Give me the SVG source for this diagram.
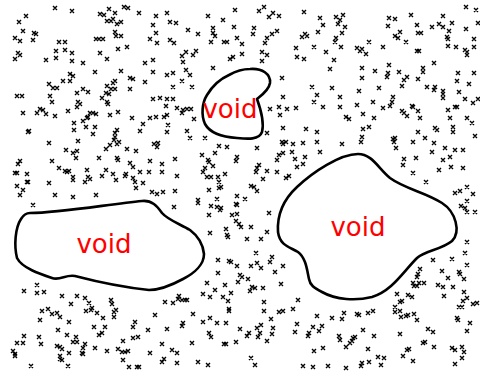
<svg xmlns="http://www.w3.org/2000/svg" width="480" height="376" viewBox="0 0 480 376">
<style>
.m{fill:none;stroke:#000;stroke-width:1.4}
.blob{fill:#fff;stroke:#000;stroke-width:2.6;stroke-linejoin:round}
.lbl{font-family:"DejaVu Sans",Verdana,sans-serif;font-size:26px;fill:#f00;text-anchor:middle}
</style>
<rect width="480" height="376" fill="#fff"/>
<g id="marks">
<path class="m" d="M55 8m-2-2l4 4m0-4l-4 4M72 11m-2-2l4 4m0-4l-4 4M100 14m-2-2l4 4m0-4l-4 4M104 15m-2-2l4 4m0-4l-4 4M109 9m-2-2l4 4m0-4l-4 4M115 13m-2-2l4 4m0-4l-4 4M124 7m-2-2l4 4m0-4l-4 4M128 8m-2-2l4 4m0-4l-4 4M139 13m-2-2l4 4m0-4l-4 4M156 16m-2-2l4 4m0-4l-4 4M26 16m-2-2l4 4m0-4l-4 4M19 22m-2-2l4 4m0-4l-4 4M23 31m-2-2l4 4m0-4l-4 4M15 38m-2-2l4 4m0-4l-4 4M20 41m-2-2l4 4m0-4l-4 4M34 33m-2-2l4 4m0-4l-4 4M36 34m-2-2l4 4m0-4l-4 4M33 40m-2-2l4 4m0-4l-4 4M107 21m-2-2l4 4m0-4l-4 4M111 21m-2-2l4 4m0-4l-4 4M113 19m-2-2l4 4m0-4l-4 4M117 24m-2-2l4 4m0-4l-4 4M121 22m-2-2l4 4m0-4l-4 4M115 32m-2-2l4 4m0-4l-4 4M116 36m-2-2l4 4m0-4l-4 4M121 36m-2-2l4 4m0-4l-4 4M96 39m-2-2l4 4m0-4l-4 4M99 39m-2-2l4 4m0-4l-4 4M103 39m-2-2l4 4m0-4l-4 4M59 42m-2-2l4 4m0-4l-4 4M65 42m-2-2l4 4m0-4l-4 4M153 25m-2-2l4 4m0-4l-4 4M156 33m-2-2l4 4m0-4l-4 4M150 39m-2-2l4 4m0-4l-4 4M157 43m-2-2l4 4m0-4l-4 4M18 53m-2-2l4 4m0-4l-4 4M20 55m-2-2l4 4m0-4l-4 4M15 59m-2-2l4 4m0-4l-4 4M56 51m-2-2l4 4m0-4l-4 4M65 50m-2-2l4 4m0-4l-4 4M72 53m-2-2l4 4m0-4l-4 4M56 58m-2-2l4 4m0-4l-4 4M46 60m-2-2l4 4m0-4l-4 4M72 61m-2-2l4 4m0-4l-4 4M83 63m-2-2l4 4m0-4l-4 4M100 53m-2-2l4 4m0-4l-4 4M107 59m-2-2l4 4m0-4l-4 4M118 49m-2-2l4 4m0-4l-4 4M127 47m-2-2l4 4m0-4l-4 4M145 63m-2-2l4 4m0-4l-4 4M153 60m-2-2l4 4m0-4l-4 4M70 74m-2-2l4 4m0-4l-4 4M73 76m-2-2l4 4m0-4l-4 4M63 81m-2-2l4 4m0-4l-4 4M70 81m-2-2l4 4m0-4l-4 4M49 84m-2-2l4 4m0-4l-4 4M53 88m-2-2l4 4m0-4l-4 4M57 88m-2-2l4 4m0-4l-4 4M95 72m-2-2l4 4m0-4l-4 4M121 71m-2-2l4 4m0-4l-4 4M153 72m-2-2l4 4m0-4l-4 4M130 78m-2-2l4 4m0-4l-4 4M133 79m-2-2l4 4m0-4l-4 4M115 81m-2-2l4 4m0-4l-4 4M113 83m-2-2l4 4m0-4l-4 4M107 86m-2-2l4 4m0-4l-4 4M111 89m-2-2l4 4m0-4l-4 4M115 89m-2-2l4 4m0-4l-4 4M106 93m-2-2l4 4m0-4l-4 4M109 94m-2-2l4 4m0-4l-4 4M145 82m-2-2l4 4m0-4l-4 4M130 89m-2-2l4 4m0-4l-4 4M77 93m-2-2l4 4m0-4l-4 4M83 89m-2-2l4 4m0-4l-4 4M88 92m-2-2l4 4m0-4l-4 4M17 96m-2-2l4 4m0-4l-4 4M22 96m-2-2l4 4m0-4l-4 4M50 96m-2-2l4 4m0-4l-4 4M102 98m-2-2l4 4m0-4l-4 4M153 99m-2-2l4 4m0-4l-4 4"/>
<path class="m" d="M167 13m-2-2l4 4m0-4l-4 4M170 22m-2-2l4 4m0-4l-4 4M176 23m-2-2l4 4m0-4l-4 4M208 16m-2-2l4 4m0-4l-4 4M223 20m-2-2l4 4m0-4l-4 4M235 10m-2-2l4 4m0-4l-4 4M259 11m-2-2l4 4m0-4l-4 4M264 7m-2-2l4 4m0-4l-4 4M269 17m-2-2l4 4m0-4l-4 4M273 13m-2-2l4 4m0-4l-4 4M279 16m-2-2l4 4m0-4l-4 4M304 12m-2-2l4 4m0-4l-4 4M188 30m-2-2l4 4m0-4l-4 4M198 34m-2-2l4 4m0-4l-4 4M213 28m-2-2l4 4m0-4l-4 4M213 33m-2-2l4 4m0-4l-4 4M215 36m-2-2l4 4m0-4l-4 4M234 27m-2-2l4 4m0-4l-4 4M254 28m-2-2l4 4m0-4l-4 4M253 34m-2-2l4 4m0-4l-4 4M267 38m-2-2l4 4m0-4l-4 4M272 34m-2-2l4 4m0-4l-4 4M277 31m-2-2l4 4m0-4l-4 4M265 43m-2-2l4 4m0-4l-4 4M170 40m-2-2l4 4m0-4l-4 4M174 43m-2-2l4 4m0-4l-4 4M211 42m-2-2l4 4m0-4l-4 4M224 42m-2-2l4 4m0-4l-4 4M227 42m-2-2l4 4m0-4l-4 4M237 38m-2-2l4 4m0-4l-4 4M242 44m-2-2l4 4m0-4l-4 4M296 48m-2-2l4 4m0-4l-4 4M302 37m-2-2l4 4m0-4l-4 4M305 34m-2-2l4 4m0-4l-4 4M307 36m-2-2l4 4m0-4l-4 4M314 47m-2-2l4 4m0-4l-4 4M186 52m-2-2l4 4m0-4l-4 4M182 56m-2-2l4 4m0-4l-4 4M183 62m-2-2l4 4m0-4l-4 4M193 55m-2-2l4 4m0-4l-4 4M196 51m-2-2l4 4m0-4l-4 4M230 59m-2-2l4 4m0-4l-4 4M233 57m-2-2l4 4m0-4l-4 4M242 54m-2-2l4 4m0-4l-4 4M262 52m-2-2l4 4m0-4l-4 4M267 55m-2-2l4 4m0-4l-4 4M262 61m-2-2l4 4m0-4l-4 4M297 57m-2-2l4 4m0-4l-4 4M304 59m-2-2l4 4m0-4l-4 4M213 68m-2-2l4 4m0-4l-4 4M167 75m-2-2l4 4m0-4l-4 4M173 73m-2-2l4 4m0-4l-4 4M186 70m-2-2l4 4m0-4l-4 4M190 75m-2-2l4 4m0-4l-4 4M182 81m-2-2l4 4m0-4l-4 4M173 87m-2-2l4 4m0-4l-4 4M192 87m-2-2l4 4m0-4l-4 4M282 78m-2-2l4 4m0-4l-4 4M312 87m-2-2l4 4m0-4l-4 4M160 98m-2-2l4 4m0-4l-4 4M167 99m-2-2l4 4m0-4l-4 4M173 99m-2-2l4 4m0-4l-4 4M166 106m-2-2l4 4m0-4l-4 4M177 108m-2-2l4 4m0-4l-4 4M183 110m-2-2l4 4m0-4l-4 4M187 109m-2-2l4 4m0-4l-4 4M191 109m-2-2l4 4m0-4l-4 4M182 113m-2-2l4 4m0-4l-4 4M167 115m-2-2l4 4m0-4l-4 4M164 117m-2-2l4 4m0-4l-4 4M194 119m-2-2l4 4m0-4l-4 4M168 125m-2-2l4 4m0-4l-4 4M283 97m-2-2l4 4m0-4l-4 4M270 109m-2-2l4 4m0-4l-4 4M279 107m-2-2l4 4m0-4l-4 4M280 115m-2-2l4 4m0-4l-4 4M287 109m-2-2l4 4m0-4l-4 4M296 108m-2-2l4 4m0-4l-4 4M314 102m-2-2l4 4m0-4l-4 4M317 95m-2-2l4 4m0-4l-4 4M320 18m-2-2l4 4m0-4l-4 4M318 32m-2-2l4 4m0-4l-4 4"/>
<path class="m" d="M323 25m-2-2l4 4m0-4l-4 4M336 17m-2-2l4 4m0-4l-4 4M343 15m-2-2l4 4m0-4l-4 4M340 20m-2-2l4 4m0-4l-4 4M338 24m-2-2l4 4m0-4l-4 4M345 27m-2-2l4 4m0-4l-4 4M342 33m-2-2l4 4m0-4l-4 4M336 38m-2-2l4 4m0-4l-4 4M335 42m-2-2l4 4m0-4l-4 4M341 47m-2-2l4 4m0-4l-4 4M326 52m-2-2l4 4m0-4l-4 4M334 60m-2-2l4 4m0-4l-4 4M330 69m-2-2l4 4m0-4l-4 4M389 18m-2-2l4 4m0-4l-4 4M395 19m-2-2l4 4m0-4l-4 4M411 15m-2-2l4 4m0-4l-4 4M388 26m-2-2l4 4m0-4l-4 4M400 32m-2-2l4 4m0-4l-4 4M395 36m-2-2l4 4m0-4l-4 4M398 38m-2-2l4 4m0-4l-4 4M406 42m-2-2l4 4m0-4l-4 4M417 25m-2-2l4 4m0-4l-4 4M418 33m-2-2l4 4m0-4l-4 4M421 33m-2-2l4 4m0-4l-4 4M369 42m-2-2l4 4m0-4l-4 4M383 47m-2-2l4 4m0-4l-4 4M357 48m-2-2l4 4m0-4l-4 4M362 49m-2-2l4 4m0-4l-4 4M360 51m-2-2l4 4m0-4l-4 4M366 54m-2-2l4 4m0-4l-4 4M417 51m-2-2l4 4m0-4l-4 4M419 51m-2-2l4 4m0-4l-4 4M443 16m-2-2l4 4m0-4l-4 4M439 24m-2-2l4 4m0-4l-4 4M443 27m-2-2l4 4m0-4l-4 4M432 27m-2-2l4 4m0-4l-4 4M452 23m-2-2l4 4m0-4l-4 4M449 31m-2-2l4 4m0-4l-4 4M447 37m-2-2l4 4m0-4l-4 4M448 39m-2-2l4 4m0-4l-4 4M448 46m-2-2l4 4m0-4l-4 4M456 47m-2-2l4 4m0-4l-4 4M466 29m-2-2l4 4m0-4l-4 4M466 7m-2-2l4 4m0-4l-4 4M476 10m-2-2l4 4m0-4l-4 4M478 23m-2-2l4 4m0-4l-4 4M474 39m-2-2l4 4m0-4l-4 4M474 47m-2-2l4 4m0-4l-4 4M465 50m-2-2l4 4m0-4l-4 4M467 52m-2-2l4 4m0-4l-4 4M467 55m-2-2l4 4m0-4l-4 4M434 63m-2-2l4 4m0-4l-4 4M362 68m-2-2l4 4m0-4l-4 4M362 78m-2-2l4 4m0-4l-4 4M375 71m-2-2l4 4m0-4l-4 4M389 65m-2-2l4 4m0-4l-4 4M388 73m-2-2l4 4m0-4l-4 4M387 77m-2-2l4 4m0-4l-4 4M399 72m-2-2l4 4m0-4l-4 4M407 77m-2-2l4 4m0-4l-4 4M404 80m-2-2l4 4m0-4l-4 4M402 86m-2-2l4 4m0-4l-4 4M418 79m-2-2l4 4m0-4l-4 4M423 68m-2-2l4 4m0-4l-4 4M423 72m-2-2l4 4m0-4l-4 4M458 73m-2-2l4 4m0-4l-4 4M474 73m-2-2l4 4m0-4l-4 4M457 81m-2-2l4 4m0-4l-4 4M469 84m-2-2l4 4m0-4l-4 4M332 88m-2-2l4 4m0-4l-4 4M359 91m-2-2l4 4m0-4l-4 4M379 88m-2-2l4 4m0-4l-4 4M427 87m-2-2l4 4m0-4l-4 4M435 87m-2-2l4 4m0-4l-4 4M434 90m-2-2l4 4m0-4l-4 4M443 91m-2-2l4 4m0-4l-4 4M443 94m-2-2l4 4m0-4l-4 4M443 98m-2-2l4 4m0-4l-4 4M459 92m-2-2l4 4m0-4l-4 4M393 97m-2-2l4 4m0-4l-4 4M392 102m-2-2l4 4m0-4l-4 4M390 106m-2-2l4 4m0-4l-4 4M373 102m-2-2l4 4m0-4l-4 4M383 108m-2-2l4 4m0-4l-4 4M323 107m-2-2l4 4m0-4l-4 4M340 97m-2-2l4 4m0-4l-4 4M340 107m-2-2l4 4m0-4l-4 4M357 105m-2-2l4 4m0-4l-4 4M363 114m-2-2l4 4m0-4l-4 4M346 117m-2-2l4 4m0-4l-4 4M349 119m-2-2l4 4m0-4l-4 4M374 118m-2-2l4 4m0-4l-4 4M402 111m-2-2l4 4m0-4l-4 4M404 113m-2-2l4 4m0-4l-4 4M407 116m-2-2l4 4m0-4l-4 4M412 106m-2-2l4 4m0-4l-4 4M413 107m-2-2l4 4m0-4l-4 4M418 111m-2-2l4 4m0-4l-4 4M420 118m-2-2l4 4m0-4l-4 4M448 110m-2-2l4 4m0-4l-4 4M455 107m-2-2l4 4m0-4l-4 4M457 107m-2-2l4 4m0-4l-4 4M465 99m-2-2l4 4m0-4l-4 4M473 103m-2-2l4 4m0-4l-4 4M478 99m-2-2l4 4m0-4l-4 4M450 118m-2-2l4 4m0-4l-4 4M467 118m-2-2l4 4m0-4l-4 4M472 123m-2-2l4 4m0-4l-4 4"/>
<path class="m" d="M23 113m-2-2l4 4m0-4l-4 4M37 113m-2-2l4 4m0-4l-4 4M40 109m-2-2l4 4m0-4l-4 4M43 110m-2-2l4 4m0-4l-4 4M46 114m-2-2l4 4m0-4l-4 4M52 102m-2-2l4 4m0-4l-4 4M55 116m-2-2l4 4m0-4l-4 4M68 111m-2-2l4 4m0-4l-4 4M77 107m-2-2l4 4m0-4l-4 4M80 104m-2-2l4 4m0-4l-4 4M78 102m-2-2l4 4m0-4l-4 4M107 102m-2-2l4 4m0-4l-4 4M108 104m-2-2l4 4m0-4l-4 4M118 112m-2-2l4 4m0-4l-4 4M110 115m-2-2l4 4m0-4l-4 4M90 113m-2-2l4 4m0-4l-4 4M93 113m-2-2l4 4m0-4l-4 4M96 114m-2-2l4 4m0-4l-4 4M83 121m-2-2l4 4m0-4l-4 4M87 118m-2-2l4 4m0-4l-4 4M88 117m-2-2l4 4m0-4l-4 4M74 123m-2-2l4 4m0-4l-4 4M86 127m-2-2l4 4m0-4l-4 4M95 127m-2-2l4 4m0-4l-4 4M93 134m-2-2l4 4m0-4l-4 4M74 130m-2-2l4 4m0-4l-4 4M28 132m-2-2l4 4m0-4l-4 4M29 131m-2-2l4 4m0-4l-4 4M49 143m-2-2l4 4m0-4l-4 4M78 141m-2-2l4 4m0-4l-4 4M66 150m-2-2l4 4m0-4l-4 4M73 153m-2-2l4 4m0-4l-4 4M77 151m-2-2l4 4m0-4l-4 4M76 158m-2-2l4 4m0-4l-4 4M99 158m-2-2l4 4m0-4l-4 4M106 149m-2-2l4 4m0-4l-4 4M110 145m-2-2l4 4m0-4l-4 4M114 140m-2-2l4 4m0-4l-4 4M115 137m-2-2l4 4m0-4l-4 4M117 144m-2-2l4 4m0-4l-4 4M119 142m-2-2l4 4m0-4l-4 4M115 133m-2-2l4 4m0-4l-4 4M117 130m-2-2l4 4m0-4l-4 4M127 149m-2-2l4 4m0-4l-4 4M136 151m-2-2l4 4m0-4l-4 4M132 118m-2-2l4 4m0-4l-4 4M140 131m-2-2l4 4m0-4l-4 4M143 124m-2-2l4 4m0-4l-4 4M150 118m-2-2l4 4m0-4l-4 4M156 117m-2-2l4 4m0-4l-4 4M154 144m-2-2l4 4m0-4l-4 4M157 147m-2-2l4 4m0-4l-4 4M158 143m-2-2l4 4m0-4l-4 4M52 161m-2-2l4 4m0-4l-4 4M59 168m-2-2l4 4m0-4l-4 4M65 171m-2-2l4 4m0-4l-4 4M67 172m-2-2l4 4m0-4l-4 4M69 171m-2-2l4 4m0-4l-4 4M87 170m-2-2l4 4m0-4l-4 4M73 177m-2-2l4 4m0-4l-4 4M73 180m-2-2l4 4m0-4l-4 4M88 177m-2-2l4 4m0-4l-4 4M90 179m-2-2l4 4m0-4l-4 4M85 182m-2-2l4 4m0-4l-4 4M102 176m-2-2l4 4m0-4l-4 4M106 170m-2-2l4 4m0-4l-4 4M113 174m-2-2l4 4m0-4l-4 4M116 180m-2-2l4 4m0-4l-4 4M117 158m-2-2l4 4m0-4l-4 4M118 160m-2-2l4 4m0-4l-4 4M130 163m-2-2l4 4m0-4l-4 4M133 167m-2-2l4 4m0-4l-4 4M126 174m-2-2l4 4m0-4l-4 4M125 176m-2-2l4 4m0-4l-4 4M133 178m-2-2l4 4m0-4l-4 4M135 182m-2-2l4 4m0-4l-4 4M140 172m-2-2l4 4m0-4l-4 4M143 183m-2-2l4 4m0-4l-4 4M136 188m-2-2l4 4m0-4l-4 4M150 161m-2-2l4 4m0-4l-4 4M149 172m-2-2l4 4m0-4l-4 4M49 183m-2-2l4 4m0-4l-4 4M55 195m-2-2l4 4m0-4l-4 4M73 197m-2-2l4 4m0-4l-4 4M96 195m-2-2l4 4m0-4l-4 4M152 192m-2-2l4 4m0-4l-4 4M157 194m-2-2l4 4m0-4l-4 4M20 161m-2-2l4 4m0-4l-4 4M18 164m-2-2l4 4m0-4l-4 4M15 173m-2-2l4 4m0-4l-4 4M17 173m-2-2l4 4m0-4l-4 4M27 174m-2-2l4 4m0-4l-4 4M27 182m-2-2l4 4m0-4l-4 4M28 182m-2-2l4 4m0-4l-4 4M17 186m-2-2l4 4m0-4l-4 4M23 190m-2-2l4 4m0-4l-4 4M20 195m-2-2l4 4m0-4l-4 4M33 205m-2-2l4 4m0-4l-4 4"/>
<path class="m" d="M167 132m-2-2l4 4m0-4l-4 4M187 131m-2-2l4 4m0-4l-4 4M190 138m-2-2l4 4m0-4l-4 4M205 138m-2-2l4 4m0-4l-4 4M219 146m-2-2l4 4m0-4l-4 4M227 147m-2-2l4 4m0-4l-4 4M215 153m-2-2l4 4m0-4l-4 4M202 155m-2-2l4 4m0-4l-4 4M208 160m-2-2l4 4m0-4l-4 4M209 162m-2-2l4 4m0-4l-4 4M205 168m-2-2l4 4m0-4l-4 4M213 166m-2-2l4 4m0-4l-4 4M203 172m-2-2l4 4m0-4l-4 4M207 177m-2-2l4 4m0-4l-4 4M211 177m-2-2l4 4m0-4l-4 4M218 177m-2-2l4 4m0-4l-4 4M225 174m-2-2l4 4m0-4l-4 4M219 182m-2-2l4 4m0-4l-4 4M221 187m-2-2l4 4m0-4l-4 4M219 188m-2-2l4 4m0-4l-4 4M175 159m-2-2l4 4m0-4l-4 4M162 164m-2-2l4 4m0-4l-4 4M162 172m-2-2l4 4m0-4l-4 4M177 176m-2-2l4 4m0-4l-4 4M163 192m-2-2l4 4m0-4l-4 4M175 191m-2-2l4 4m0-4l-4 4M209 190m-2-2l4 4m0-4l-4 4M217 199m-2-2l4 4m0-4l-4 4M198 200m-2-2l4 4m0-4l-4 4M198 203m-2-2l4 4m0-4l-4 4M211 206m-2-2l4 4m0-4l-4 4M217 207m-2-2l4 4m0-4l-4 4M220 210m-2-2l4 4m0-4l-4 4M221 208m-2-2l4 4m0-4l-4 4M209 215m-2-2l4 4m0-4l-4 4M237 157m-2-2l4 4m0-4l-4 4M236 161m-2-2l4 4m0-4l-4 4M259 165m-2-2l4 4m0-4l-4 4M257 168m-2-2l4 4m0-4l-4 4M256 172m-2-2l4 4m0-4l-4 4M267 171m-2-2l4 4m0-4l-4 4M277 172m-2-2l4 4m0-4l-4 4M263 179m-2-2l4 4m0-4l-4 4M251 186m-2-2l4 4m0-4l-4 4M254 187m-2-2l4 4m0-4l-4 4M257 191m-2-2l4 4m0-4l-4 4M237 196m-2-2l4 4m0-4l-4 4M245 199m-2-2l4 4m0-4l-4 4M236 204m-2-2l4 4m0-4l-4 4M237 205m-2-2l4 4m0-4l-4 4M232 215m-2-2l4 4m0-4l-4 4M237 214m-2-2l4 4m0-4l-4 4M236 221m-2-2l4 4m0-4l-4 4M239 224m-2-2l4 4m0-4l-4 4M241 227m-2-2l4 4m0-4l-4 4M251 227m-2-2l4 4m0-4l-4 4M226 229m-2-2l4 4m0-4l-4 4M227 235m-2-2l4 4m0-4l-4 4M228 237m-2-2l4 4m0-4l-4 4M210 233m-2-2l4 4m0-4l-4 4M247 239m-2-2l4 4m0-4l-4 4M261 239m-2-2l4 4m0-4l-4 4M267 232m-2-2l4 4m0-4l-4 4M269 213m-2-2l4 4m0-4l-4 4M174 207m-2-2l4 4m0-4l-4 4M267 133m-2-2l4 4m0-4l-4 4M283 128m-2-2l4 4m0-4l-4 4M306 129m-2-2l4 4m0-4l-4 4M317 132m-2-2l4 4m0-4l-4 4M317 142m-2-2l4 4m0-4l-4 4M257 148m-2-2l4 4m0-4l-4 4M282 142m-2-2l4 4m0-4l-4 4M283 144m-2-2l4 4m0-4l-4 4M286 142m-2-2l4 4m0-4l-4 4M293 144m-2-2l4 4m0-4l-4 4M303 143m-2-2l4 4m0-4l-4 4M292 152m-2-2l4 4m0-4l-4 4M283 153m-2-2l4 4m0-4l-4 4M279 155m-2-2l4 4m0-4l-4 4M277 160m-2-2l4 4m0-4l-4 4M295 159m-2-2l4 4m0-4l-4 4M305 157m-2-2l4 4m0-4l-4 4M297 167m-2-2l4 4m0-4l-4 4M303 164m-2-2l4 4m0-4l-4 4M286 178m-2-2l4 4m0-4l-4 4M289 176m-2-2l4 4m0-4l-4 4"/>
<path class="m" d="M363 129m-2-2l4 4m0-4l-4 4M369 127m-2-2l4 4m0-4l-4 4M362 137m-2-2l4 4m0-4l-4 4M361 142m-2-2l4 4m0-4l-4 4M342 144m-2-2l4 4m0-4l-4 4M320 152m-2-2l4 4m0-4l-4 4M393 139m-2-2l4 4m0-4l-4 4M395 138m-2-2l4 4m0-4l-4 4M394 142m-2-2l4 4m0-4l-4 4M396 148m-2-2l4 4m0-4l-4 4M418 132m-2-2l4 4m0-4l-4 4M425 138m-2-2l4 4m0-4l-4 4M435 128m-2-2l4 4m0-4l-4 4M437 130m-2-2l4 4m0-4l-4 4M453 127m-2-2l4 4m0-4l-4 4M453 132m-2-2l4 4m0-4l-4 4M475 136m-2-2l4 4m0-4l-4 4M413 142m-2-2l4 4m0-4l-4 4M434 143m-2-2l4 4m0-4l-4 4M445 148m-2-2l4 4m0-4l-4 4M432 152m-2-2l4 4m0-4l-4 4M455 150m-2-2l4 4m0-4l-4 4M463 150m-2-2l4 4m0-4l-4 4M450 157m-2-2l4 4m0-4l-4 4M443 160m-2-2l4 4m0-4l-4 4M404 159m-2-2l4 4m0-4l-4 4M403 165m-2-2l4 4m0-4l-4 4M416 158m-2-2l4 4m0-4l-4 4M413 173m-2-2l4 4m0-4l-4 4M426 182m-2-2l4 4m0-4l-4 4M439 170m-2-2l4 4m0-4l-4 4M451 167m-2-2l4 4m0-4l-4 4M463 168m-2-2l4 4m0-4l-4 4M455 193m-2-2l4 4m0-4l-4 4M460 191m-2-2l4 4m0-4l-4 4M467 187m-2-2l4 4m0-4l-4 4M473 194m-2-2l4 4m0-4l-4 4M461 206m-2-2l4 4m0-4l-4 4M467 201m-2-2l4 4m0-4l-4 4M465 208m-2-2l4 4m0-4l-4 4M467 212m-2-2l4 4m0-4l-4 4M475 212m-2-2l4 4m0-4l-4 4M467 242m-2-2l4 4m0-4l-4 4"/>
<path class="m" d="M24 291m-2-2l4 4m0-4l-4 4M37 285m-2-2l4 4m0-4l-4 4M37 293m-2-2l4 4m0-4l-4 4M44 292m-2-2l4 4m0-4l-4 4M62 296m-2-2l4 4m0-4l-4 4M71 304m-2-2l4 4m0-4l-4 4M77 296m-2-2l4 4m0-4l-4 4M85 298m-2-2l4 4m0-4l-4 4M89 303m-2-2l4 4m0-4l-4 4M92 308m-2-2l4 4m0-4l-4 4M86 311m-2-2l4 4m0-4l-4 4M91 310m-2-2l4 4m0-4l-4 4M97 313m-2-2l4 4m0-4l-4 4M103 318m-2-2l4 4m0-4l-4 4M111 300m-2-2l4 4m0-4l-4 4M112 304m-2-2l4 4m0-4l-4 4M114 312m-2-2l4 4m0-4l-4 4M116 310m-2-2l4 4m0-4l-4 4M114 317m-2-2l4 4m0-4l-4 4M42 311m-2-2l4 4m0-4l-4 4M48 309m-2-2l4 4m0-4l-4 4M52 314m-2-2l4 4m0-4l-4 4M57 313m-2-2l4 4m0-4l-4 4M60 317m-2-2l4 4m0-4l-4 4M40 320m-2-2l4 4m0-4l-4 4M69 322m-2-2l4 4m0-4l-4 4M58 330m-2-2l4 4m0-4l-4 4M67 335m-2-2l4 4m0-4l-4 4M76 337m-2-2l4 4m0-4l-4 4M73 342m-2-2l4 4m0-4l-4 4M77 342m-2-2l4 4m0-4l-4 4M85 344m-2-2l4 4m0-4l-4 4M94 327m-2-2l4 4m0-4l-4 4M105 327m-2-2l4 4m0-4l-4 4M99 335m-2-2l4 4m0-4l-4 4M102 333m-2-2l4 4m0-4l-4 4M95 348m-2-2l4 4m0-4l-4 4M83 348m-2-2l4 4m0-4l-4 4M82 353m-2-2l4 4m0-4l-4 4M83 354m-2-2l4 4m0-4l-4 4M69 353m-2-2l4 4m0-4l-4 4M60 347m-2-2l4 4m0-4l-4 4M62 349m-2-2l4 4m0-4l-4 4M60 356m-2-2l4 4m0-4l-4 4M60 359m-2-2l4 4m0-4l-4 4M57 346m-2-2l4 4m0-4l-4 4M62 360m-2-2l4 4m0-4l-4 4M68 366m-2-2l4 4m0-4l-4 4M31 366m-2-2l4 4m0-4l-4 4M39 337m-2-2l4 4m0-4l-4 4M41 344m-2-2l4 4m0-4l-4 4M24 336m-2-2l4 4m0-4l-4 4M23 343m-2-2l4 4m0-4l-4 4M17 343m-2-2l4 4m0-4l-4 4M13 351m-2-2l4 4m0-4l-4 4M15 354m-2-2l4 4m0-4l-4 4M15 356m-2-2l4 4m0-4l-4 4M107 351m-2-2l4 4m0-4l-4 4M118 349m-2-2l4 4m0-4l-4 4M122 352m-2-2l4 4m0-4l-4 4M125 352m-2-2l4 4m0-4l-4 4M128 351m-2-2l4 4m0-4l-4 4M123 360m-2-2l4 4m0-4l-4 4M123 341m-2-2l4 4m0-4l-4 4M133 338m-2-2l4 4m0-4l-4 4M138 337m-2-2l4 4m0-4l-4 4M133 327m-2-2l4 4m0-4l-4 4M135 322m-2-2l4 4m0-4l-4 4M148 330m-2-2l4 4m0-4l-4 4M155 315m-2-2l4 4m0-4l-4 4M150 353m-2-2l4 4m0-4l-4 4M129 367m-2-2l4 4m0-4l-4 4M137 367m-2-2l4 4m0-4l-4 4M139 367m-2-2l4 4m0-4l-4 4"/>
<path class="m" d="M256 253m-2-2l4 4m0-4l-4 4M272 257m-2-2l4 4m0-4l-4 4M270 262m-2-2l4 4m0-4l-4 4M283 266m-2-2l4 4m0-4l-4 4M257 263m-2-2l4 4m0-4l-4 4M251 266m-2-2l4 4m0-4l-4 4M261 268m-2-2l4 4m0-4l-4 4M275 272m-2-2l4 4m0-4l-4 4M218 260m-2-2l4 4m0-4l-4 4M229 261m-2-2l4 4m0-4l-4 4M231 262m-2-2l4 4m0-4l-4 4M237 266m-2-2l4 4m0-4l-4 4M218 273m-2-2l4 4m0-4l-4 4M240 275m-2-2l4 4m0-4l-4 4M242 277m-2-2l4 4m0-4l-4 4M238 282m-2-2l4 4m0-4l-4 4M248 279m-2-2l4 4m0-4l-4 4M225 285m-2-2l4 4m0-4l-4 4M207 283m-2-2l4 4m0-4l-4 4M215 290m-2-2l4 4m0-4l-4 4M203 294m-2-2l4 4m0-4l-4 4M210 297m-2-2l4 4m0-4l-4 4M223 297m-2-2l4 4m0-4l-4 4M228 301m-2-2l4 4m0-4l-4 4M231 293m-2-2l4 4m0-4l-4 4M252 287m-2-2l4 4m0-4l-4 4M255 288m-2-2l4 4m0-4l-4 4M250 291m-2-2l4 4m0-4l-4 4M263 288m-2-2l4 4m0-4l-4 4M281 284m-2-2l4 4m0-4l-4 4M179 296m-2-2l4 4m0-4l-4 4M178 299m-2-2l4 4m0-4l-4 4M182 300m-2-2l4 4m0-4l-4 4M185 300m-2-2l4 4m0-4l-4 4M187 300m-2-2l4 4m0-4l-4 4M173 303m-2-2l4 4m0-4l-4 4M165 302m-2-2l4 4m0-4l-4 4M264 302m-2-2l4 4m0-4l-4 4M264 311m-2-2l4 4m0-4l-4 4M279 312m-2-2l4 4m0-4l-4 4M283 311m-2-2l4 4m0-4l-4 4M293 309m-2-2l4 4m0-4l-4 4M298 300m-2-2l4 4m0-4l-4 4M229 309m-2-2l4 4m0-4l-4 4M229 311m-2-2l4 4m0-4l-4 4M193 314m-2-2l4 4m0-4l-4 4M203 322m-2-2l4 4m0-4l-4 4M210 318m-2-2l4 4m0-4l-4 4M217 323m-2-2l4 4m0-4l-4 4M226 323m-2-2l4 4m0-4l-4 4M240 329m-2-2l4 4m0-4l-4 4M183 323m-2-2l4 4m0-4l-4 4M182 326m-2-2l4 4m0-4l-4 4M167 329m-2-2l4 4m0-4l-4 4M209 333m-2-2l4 4m0-4l-4 4M211 337m-2-2l4 4m0-4l-4 4M224 344m-2-2l4 4m0-4l-4 4M226 344m-2-2l4 4m0-4l-4 4M236 342m-2-2l4 4m0-4l-4 4M247 336m-2-2l4 4m0-4l-4 4M249 333m-2-2l4 4m0-4l-4 4M257 328m-2-2l4 4m0-4l-4 4M261 325m-2-2l4 4m0-4l-4 4M260 333m-2-2l4 4m0-4l-4 4M258 337m-2-2l4 4m0-4l-4 4M267 341m-2-2l4 4m0-4l-4 4M273 328m-2-2l4 4m0-4l-4 4M272 334m-2-2l4 4m0-4l-4 4M271 319m-2-2l4 4m0-4l-4 4M297 324m-2-2l4 4m0-4l-4 4M295 332m-2-2l4 4m0-4l-4 4M308 336m-2-2l4 4m0-4l-4 4M309 333m-2-2l4 4m0-4l-4 4M313 327m-2-2l4 4m0-4l-4 4M317 316m-2-2l4 4m0-4l-4 4M314 351m-2-2l4 4m0-4l-4 4M192 343m-2-2l4 4m0-4l-4 4M162 344m-2-2l4 4m0-4l-4 4M172 350m-2-2l4 4m0-4l-4 4M177 353m-2-2l4 4m0-4l-4 4M164 359m-2-2l4 4m0-4l-4 4M162 362m-2-2l4 4m0-4l-4 4M177 363m-2-2l4 4m0-4l-4 4M198 362m-2-2l4 4m0-4l-4 4M208 365m-2-2l4 4m0-4l-4 4M251 358m-2-2l4 4m0-4l-4 4M255 365m-2-2l4 4m0-4l-4 4M303 366m-2-2l4 4m0-4l-4 4M313 367m-2-2l4 4m0-4l-4 4M319 331m-2-2l4 4m0-4l-4 4"/>
<path class="m" d="M433 260m-2-2l4 4m0-4l-4 4M452 259m-2-2l4 4m0-4l-4 4M465 253m-2-2l4 4m0-4l-4 4M467 265m-2-2l4 4m0-4l-4 4M442 271m-2-2l4 4m0-4l-4 4M459 272m-2-2l4 4m0-4l-4 4M460 274m-2-2l4 4m0-4l-4 4M464 279m-2-2l4 4m0-4l-4 4M448 278m-2-2l4 4m0-4l-4 4M453 287m-2-2l4 4m0-4l-4 4M464 292m-2-2l4 4m0-4l-4 4M443 287m-2-2l4 4m0-4l-4 4M438 285m-2-2l4 4m0-4l-4 4M444 296m-2-2l4 4m0-4l-4 4M420 269m-2-2l4 4m0-4l-4 4M418 274m-2-2l4 4m0-4l-4 4M417 277m-2-2l4 4m0-4l-4 4M413 283m-2-2l4 4m0-4l-4 4M414 286m-2-2l4 4m0-4l-4 4M417 286m-2-2l4 4m0-4l-4 4M419 283m-2-2l4 4m0-4l-4 4M424 283m-2-2l4 4m0-4l-4 4M397 294m-2-2l4 4m0-4l-4 4M408 295m-2-2l4 4m0-4l-4 4M412 297m-2-2l4 4m0-4l-4 4M402 301m-2-2l4 4m0-4l-4 4M400 302m-2-2l4 4m0-4l-4 4M395 307m-2-2l4 4m0-4l-4 4M400 311m-2-2l4 4m0-4l-4 4M401 317m-2-2l4 4m0-4l-4 4M406 316m-2-2l4 4m0-4l-4 4M408 315m-2-2l4 4m0-4l-4 4M414 314m-2-2l4 4m0-4l-4 4M417 320m-2-2l4 4m0-4l-4 4M395 312m-2-2l4 4m0-4l-4 4M463 301m-2-2l4 4m0-4l-4 4M467 298m-2-2l4 4m0-4l-4 4M473 304m-2-2l4 4m0-4l-4 4M477 303m-2-2l4 4m0-4l-4 4M459 307m-2-2l4 4m0-4l-4 4M462 307m-2-2l4 4m0-4l-4 4M457 318m-2-2l4 4m0-4l-4 4M458 320m-2-2l4 4m0-4l-4 4M470 323m-2-2l4 4m0-4l-4 4M467 331m-2-2l4 4m0-4l-4 4M428 329m-2-2l4 4m0-4l-4 4M433 332m-2-2l4 4m0-4l-4 4M400 334m-2-2l4 4m0-4l-4 4M423 343m-2-2l4 4m0-4l-4 4M425 342m-2-2l4 4m0-4l-4 4M434 347m-2-2l4 4m0-4l-4 4M409 349m-2-2l4 4m0-4l-4 4M407 350m-2-2l4 4m0-4l-4 4M403 356m-2-2l4 4m0-4l-4 4M413 361m-2-2l4 4m0-4l-4 4M452 348m-2-2l4 4m0-4l-4 4M455 350m-2-2l4 4m0-4l-4 4M462 347m-2-2l4 4m0-4l-4 4M464 352m-2-2l4 4m0-4l-4 4M462 358m-2-2l4 4m0-4l-4 4M455 364m-2-2l4 4m0-4l-4 4M363 330m-2-2l4 4m0-4l-4 4M374 336m-2-2l4 4m0-4l-4 4M332 318m-2-2l4 4m0-4l-4 4M342 319m-2-2l4 4m0-4l-4 4M344 313m-2-2l4 4m0-4l-4 4M357 314m-2-2l4 4m0-4l-4 4M359 315m-2-2l4 4m0-4l-4 4M368 313m-2-2l4 4m0-4l-4 4M373 311m-2-2l4 4m0-4l-4 4M322 326m-2-2l4 4m0-4l-4 4M323 348m-2-2l4 4m0-4l-4 4M339 336m-2-2l4 4m0-4l-4 4M340 340m-2-2l4 4m0-4l-4 4M346 347m-2-2l4 4m0-4l-4 4M350 343m-2-2l4 4m0-4l-4 4M352 341m-2-2l4 4m0-4l-4 4M353 338m-2-2l4 4m0-4l-4 4M355 337m-2-2l4 4m0-4l-4 4M368 349m-2-2l4 4m0-4l-4 4M362 363m-2-2l4 4m0-4l-4 4M361 366m-2-2l4 4m0-4l-4 4M369 362m-2-2l4 4m0-4l-4 4M378 357m-2-2l4 4m0-4l-4 4M384 358m-2-2l4 4m0-4l-4 4M381 365m-2-2l4 4m0-4l-4 4M328 366m-2-2l4 4m0-4l-4 4M346 368m-2-2l4 4m0-4l-4 4"/>
</g>
<g id="void1">
<path class="blob" d="M250 69C262 68 271 74 270 83C269 90 262 95 257 99C261 110 264 124 262 132C259 140 248 139 237 138C222 137 210 133 205 124C201 115 202 103 207 95C213 85 220 79 229 75C236 71 243 69 250 69Z"/>
<text class="lbl" x="230" y="118">void</text>
</g>
<g id="void2">
<path class="blob" d="M30 213C60 213 110 204 142 201C152 200 157 206 162 213C168 220 180 224 190 230C198 236 203 244 204 254C204 264 195 273 183 279C172 285 160 290 149 290C130 288 98 282 75 276C66 274 60 281 52 278C40 274 22 268 17 258C14 246 15 228 21 219C24 214 27 213 30 213Z"/>
<text class="lbl" x="104" y="253">void</text>
</g>
<g id="void3">
<path class="blob" d="M358 154C372 154 378 168 390 178C405 189 425 192 442 203C456 212 461 232 452 241C441 250 426 250 417 258C403 272 392 291 372 297C356 301 336 300 322 292C314 288 310 285 309 279C307 270 306 258 298 252C290 247 280 246 278 232C277 216 283 200 297 187C313 172 340 154 358 154Z"/>
<text class="lbl" x="358" y="236">void</text>
</g>
</svg>
